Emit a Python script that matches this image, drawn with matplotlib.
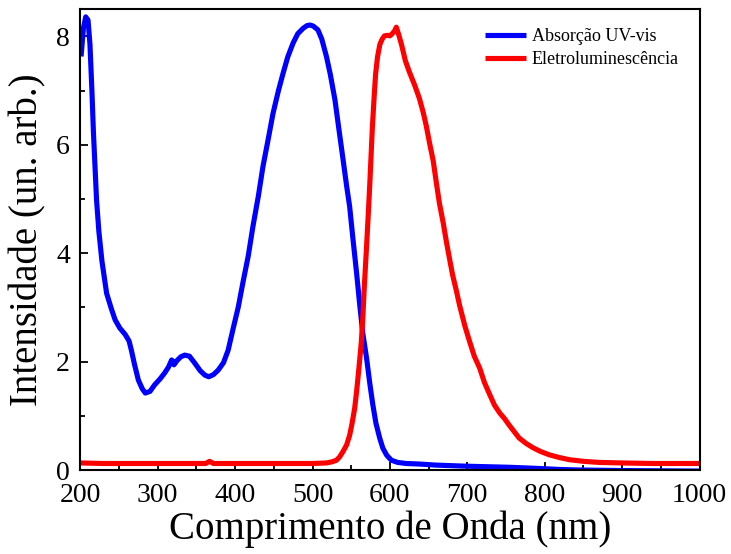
import matplotlib
matplotlib.use("Agg")
import matplotlib.pyplot as plt
from matplotlib.ticker import MultipleLocator

# Absorção UV-vis
abs_nm = [201, 204, 207, 210, 212.5, 215, 217, 221, 224, 228, 234, 240, 245, 251, 258, 263, 266, 270, 275, 280, 284,
          290, 296, 303, 309, 314, 318, 320, 321, 325, 330, 335, 341, 348, 355, 361, 366, 372, 378, 385, 391,
          397, 404, 410, 417, 423, 430, 436, 443, 449, 456, 462, 468, 475, 481, 488, 493, 497, 501, 507, 512,
          518, 523, 529, 534, 539, 544, 548, 552, 557, 561, 565, 570, 574, 578, 582, 587, 591, 596, 602, 610,
          621, 638, 660, 699, 755, 790, 819, 845, 900, 1000]
abs_val = [7.63, 8.15, 8.36, 8.3, 7.85, 7.0, 6.22, 4.98, 4.4, 3.85, 3.26, 2.98, 2.77, 2.62, 2.5, 2.38, 2.21, 1.95, 1.66, 1.5, 1.42,
           1.45, 1.57, 1.68, 1.79, 1.9, 2.03, 2.0, 1.94, 2.02, 2.09, 2.12, 2.1, 1.97, 1.83, 1.75, 1.72, 1.76, 1.84, 1.98, 2.21,
           2.58, 3.0, 3.45, 3.95, 4.49, 5.05, 5.6, 6.12, 6.58, 7.0, 7.32, 7.62, 7.88, 8.05, 8.15, 8.2, 8.21, 8.19, 8.12, 7.95,
           7.63, 7.3, 6.83, 6.3, 5.78, 5.25, 4.86, 4.3, 3.63, 3.05, 2.52, 2.05, 1.6, 1.2, 0.86, 0.58, 0.4, 0.27, 0.18, 0.14,
           0.12, 0.11, 0.09, 0.07, 0.05, 0.03, 0.01, 0.0, -0.01, -0.02]

# Eletroluminescência
el_nm = [200, 230, 260, 300, 340, 362, 367, 372, 400, 450, 500, 518, 525, 531, 535, 539, 544, 548, 551, 554.5,
         557, 560, 563, 565, 567, 569.5, 572, 574, 577.3, 579.5, 581.5, 584, 587, 590, 593, 597, 600, 603, 606,
         608.3, 611, 615, 620, 625, 632, 638, 643, 647, 651, 656, 660, 664, 669, 673, 677, 681, 686, 690, 697,
         703, 709, 716, 722, 729, 735, 742, 748, 754, 761, 767, 776, 785, 795, 806, 819, 832, 850, 870, 900,
         940, 1000]
el_val = [0.13, 0.12, 0.12, 0.12, 0.12, 0.12, 0.16, 0.12, 0.12, 0.12, 0.12, 0.13, 0.15, 0.18, 0.24, 0.33, 0.46, 0.64, 0.85, 1.14,
          1.45, 1.88, 2.35, 2.8, 3.4, 4.03, 4.7, 5.27, 6.31, 6.85, 7.3, 7.62, 7.85, 7.95, 8.01, 8.02, 8.01, 8.05, 8.1,
          8.17, 8.05, 7.85, 7.55, 7.35, 7.1, 6.86, 6.6, 6.35, 6.05, 5.7, 5.3, 4.92, 4.55, 4.21, 3.9, 3.6, 3.3, 3.04, 2.65,
          2.37, 2.1, 1.88, 1.62, 1.39, 1.2, 1.05, 0.95, 0.83, 0.7, 0.59, 0.49, 0.41, 0.34, 0.28, 0.23, 0.19, 0.16, 0.14, 0.13,
          0.12, 0.12]

plt.rcParams['font.family'] = ['Liberation Serif', 'DejaVu Serif']

fig = plt.figure(figsize=(7.31, 5.54), dpi=100)
ax = fig.add_axes([80.3/731, 1 - 470/554, (699.5-80.3)/731, (470-9.3)/554])

ax.plot(abs_nm, abs_val, color='#0000ff', lw=3.7, label='Absorção UV-vis',
        solid_joinstyle='round', solid_capstyle='butt')
ax.plot(el_nm, el_val, color='#ff0000', lw=3.7, label='Eletroluminescência',
        solid_joinstyle='round', solid_capstyle='butt')

ax.set_xlim(200, 1000)
ax.set_ylim(0, 8.5)
ax.xaxis.set_major_locator(MultipleLocator(100))
ax.xaxis.set_minor_locator(MultipleLocator(50))
ax.yaxis.set_major_locator(MultipleLocator(2))
ax.yaxis.set_minor_locator(MultipleLocator(1))
ax.tick_params(which='both', direction='in', top=False, right=False, labelsize=20, width=1.3)
ax.tick_params(axis='x', which='major', pad=9.5)
ax.tick_params(axis='y', which='major', pad=7.5)
ax.tick_params(which='major', length=6)
ax.tick_params(which='minor', length=3.5)
for s in ax.spines.values():
    s.set_linewidth(1.5)

ax.set_xlabel('Comprimento de Onda (nm)', fontsize=28, labelpad=2)
ax.set_ylabel('Intensidade (un. arb.)', fontsize=28, labelpad=7)

ax.legend(loc='upper right', frameon=False, fontsize=13, handlelength=2.3, handletextpad=0.3,
          borderaxespad=0.3, borderpad=0.4, labelspacing=0.35, bbox_to_anchor=(0.987, 0.987))

fig.savefig('out.png', dpi=100)
